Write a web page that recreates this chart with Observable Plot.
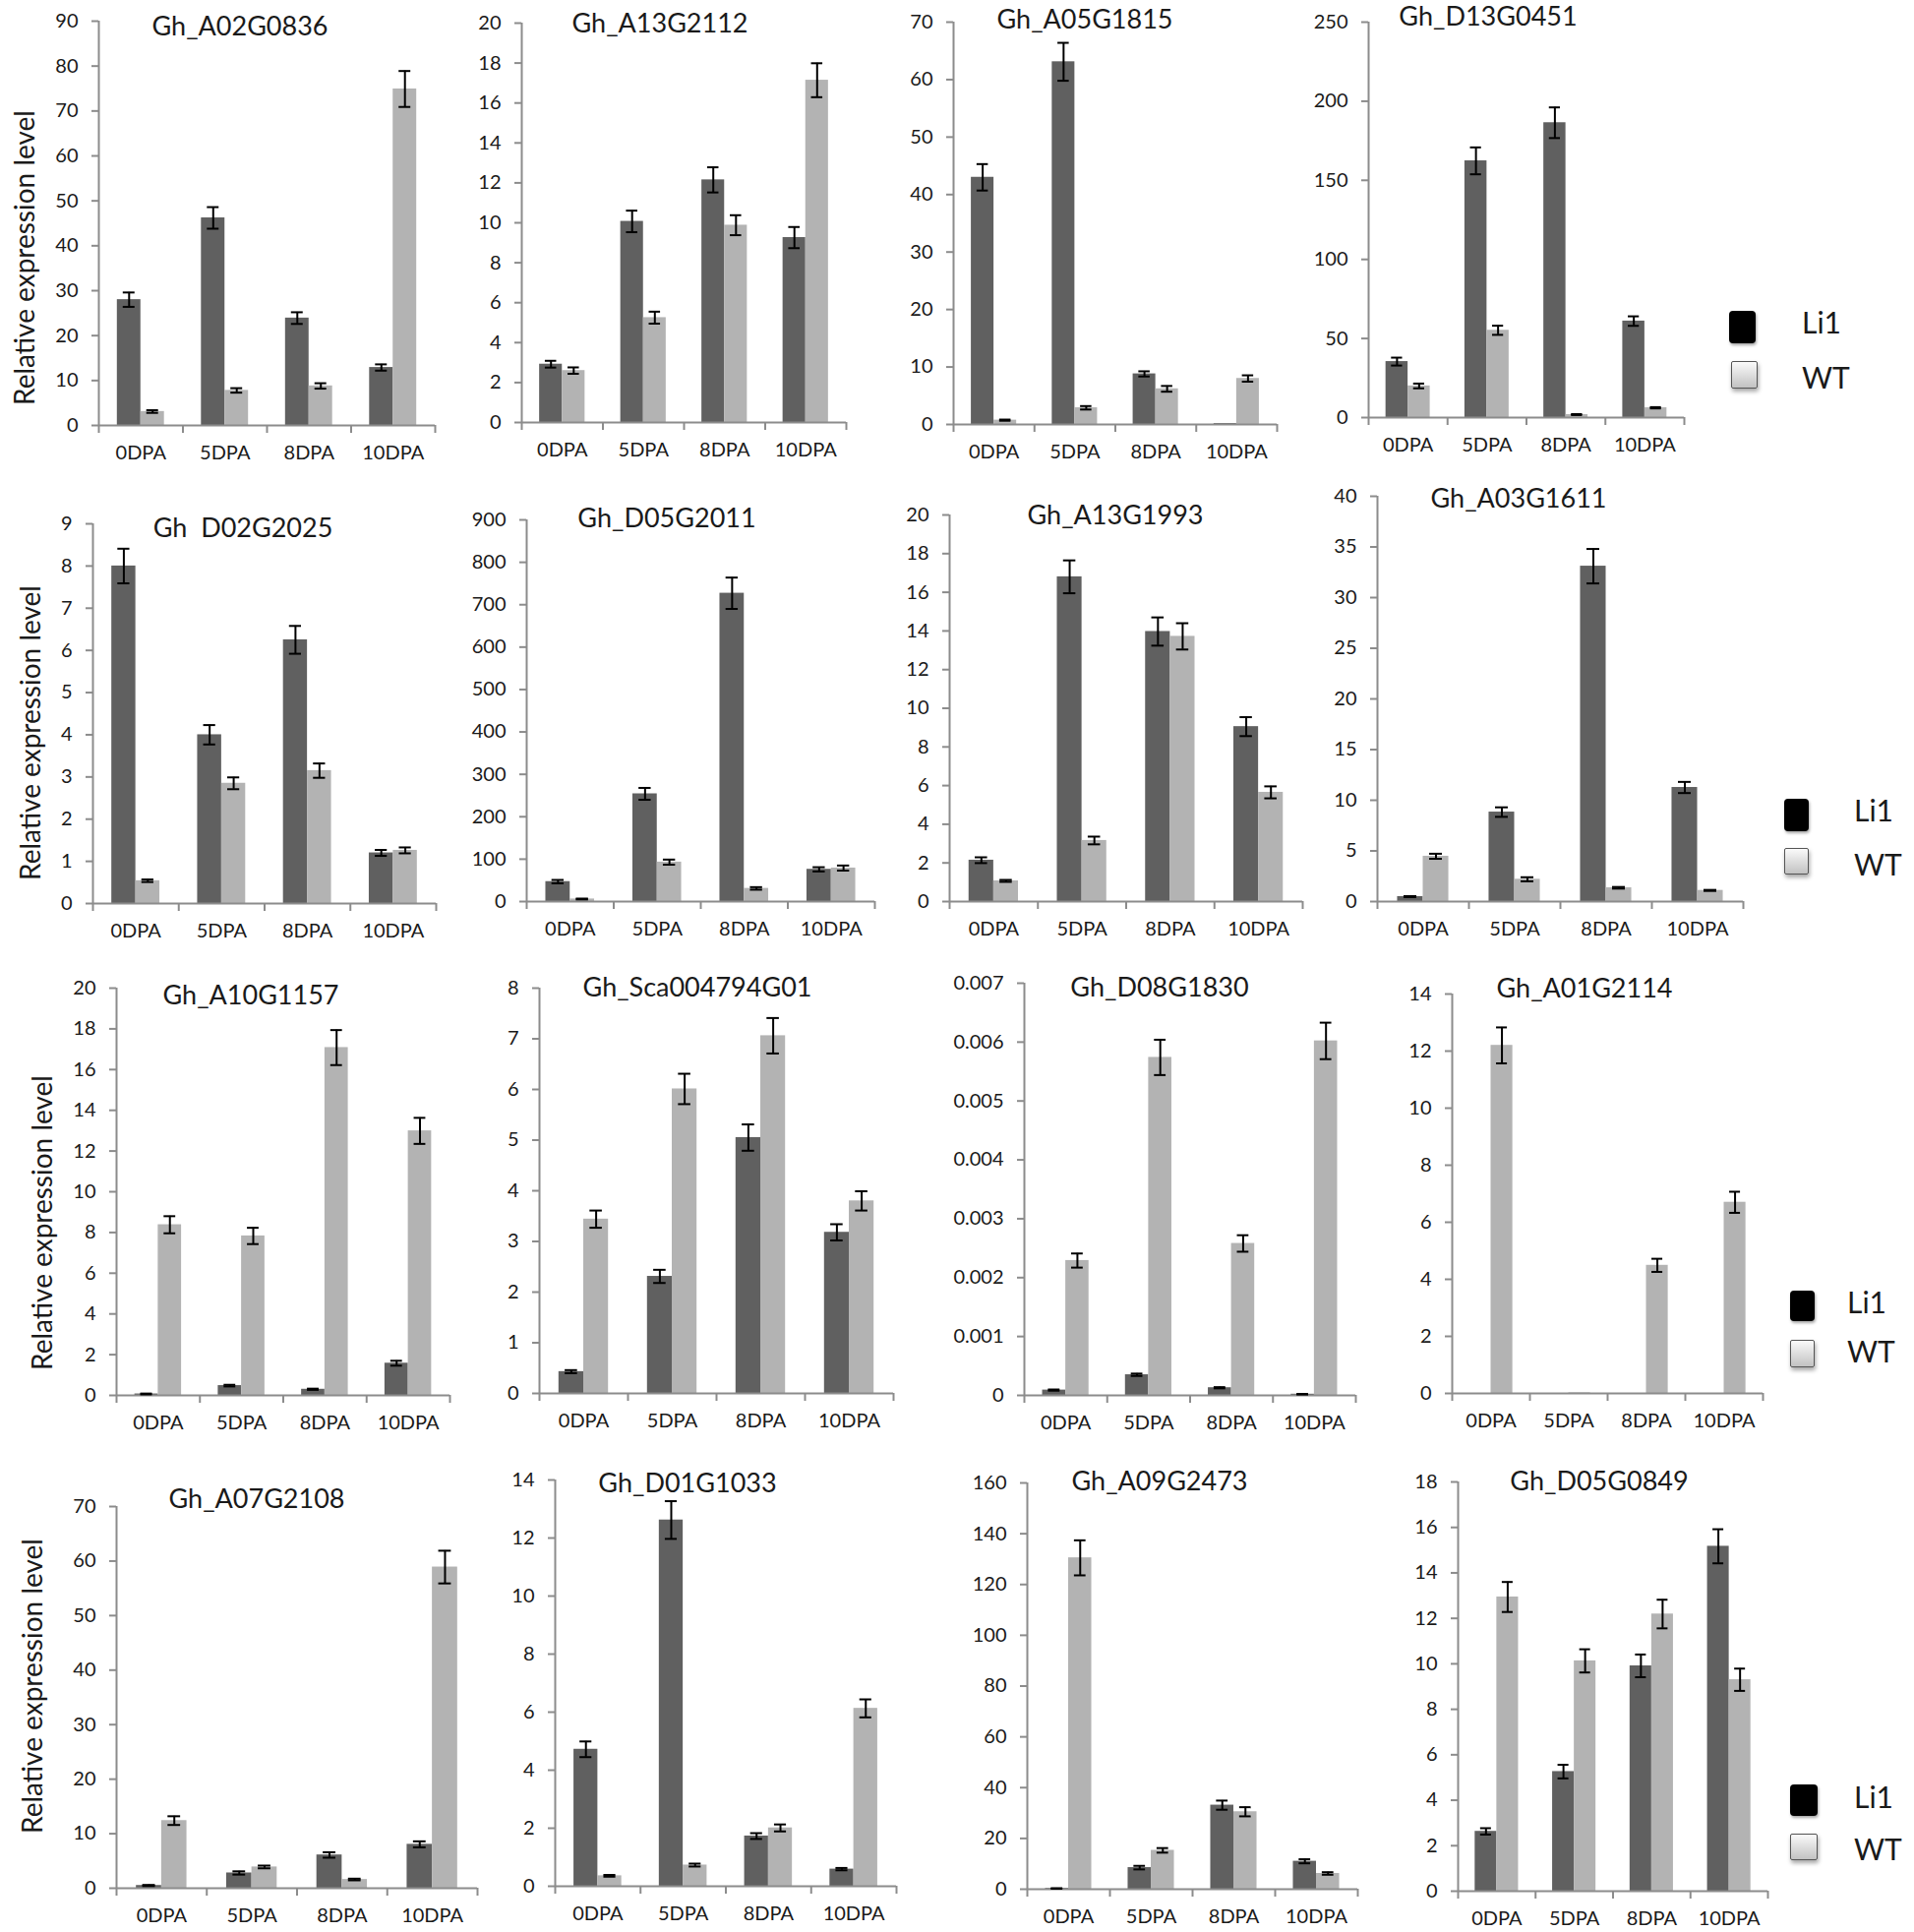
<!DOCTYPE html>
<html><head><meta charset="utf-8">
<script src="https://cdn.jsdelivr.net/npm/d3@7"></script>
<script src="https://cdn.jsdelivr.net/npm/@observablehq/plot@0.6"></script>
<style>
body{margin:0;background:#fff;}
#fig{position:relative;width:1946px;height:1964px;background:#fff;font-family:Lato,"Open Sans",sans-serif;color:#1a1a1a;overflow:hidden;}
.title{position:absolute;font-size:27px;white-space:pre;line-height:1;transform:translate(-50%,-50%);}
.ylab{position:absolute;font-size:28px;white-space:nowrap;line-height:1;transform:translate(-50%,-50%) rotate(-90deg);}
.li1sw{position:absolute;background:#000;border-radius:4px;box-shadow:1px 2px 3px rgba(0,0,0,0.35);}
.wtsw{position:absolute;background:linear-gradient(#fafafa,#c2c2c2);border:1.5px solid #555;box-sizing:border-box;border-radius:2px;box-shadow:1px 3px 4px rgba(0,0,0,0.35);}
.lt{position:absolute;font-size:30px;line-height:1;transform:translateY(-50%);}
</style></head><body><div id="fig"></div><script>
// ---------- data ----------
const categories = ["0DPA", "5DPA", "8DPA", "10DPA"];
const series = ["Li1", "WT"];
const genes = ["Gh_A02G0836", "Gh_A13G2112", "Gh_A05G1815", "Gh_D13G0451",
  "Gh  D02G2025", "Gh_D05G2011", "Gh_A13G1993", "Gh_A03G1611",
  "Gh_A10G1157", "Gh_Sca004794G01", "Gh_D08G1830", "Gh_A01G2114",
  "Gh_A07G2108", "Gh_D01G1033", "Gh_A09G2473", "Gh_D05G0849"];
const li1 = [
  [28.0, 46.2, 23.9, 12.9], [2.92, 10.07, 12.15, 9.26], [43.0, 63.1, 8.8, 0.15], [35.4, 162.3, 186.4, 61],
  [8.0, 4.0, 6.25, 1.2], [47, 254, 727, 76], [2.14, 16.8, 13.97, 9.05], [0.49, 8.83, 33.1, 11.26],
  [0.07, 0.48, 0.3, 1.58], [0.43, 2.31, 5.05, 3.18], [0.00009, 0.00035, 0.00013, 0.00002], [0, 0, 0, 0],
  [0.5, 2.8, 6.1, 8.05], [4.72, 12.62, 1.73, 0.59], [0.3, 8.5, 33.1, 11.0], [2.63, 5.26, 9.91, 15.17]];
const li1Err = [
  [1.6, 2.4, 1.3, 0.7], [0.17, 0.54, 0.63, 0.53], [2.3, 3.3, 0.45, 0], [2.5, 8.5, 9.7, 3],
  [0.41, 0.23, 0.33, 0.07], [4, 14, 37, 5], [0.15, 0.85, 0.73, 0.49], [0.05, 0.47, 1.7, 0.55],
  [0.02, 0.04, 0.03, 0.12], [0.03, 0.13, 0.26, 0.16], [0.00001, 0.00002, 0.00001, 0.000005], [0, 0, 0, 0],
  [0.1, 0.3, 0.5, 0.55], [0.27, 0.65, 0.1, 0.04], [0.1, 0.7, 1.8, 0.8], [0.14, 0.3, 0.5, 0.75]];
const wt = [
  [3.1, 7.8, 8.8, 74.9], [2.6, 5.25, 9.88, 17.14], [0.75, 2.9, 6.2, 8.0], [20, 55.2, 1.9, 6.2],
  [0.54, 2.85, 3.15, 1.26], [6, 93, 31, 79], [1.07, 3.16, 13.72, 5.65], [4.47, 2.2, 1.36, 1.1],
  [8.38, 7.83, 17.08, 12.99], [3.44, 6.01, 7.06, 3.8], [0.00229, 0.00574, 0.00258, 0.00602], [12.2, 0.02, 4.49, 6.7],
  [12.4, 3.9, 1.6, 58.9], [0.36, 0.73, 2.01, 6.13], [130.5, 15.3, 30.5, 6.2], [12.94, 10.13, 12.19, 9.3]];
const wtErr = [
  [0.3, 0.5, 0.6, 4.0], [0.16, 0.3, 0.5, 0.85], [0.1, 0.3, 0.5, 0.55], [1.5, 2.9, 0.3, 0.4],
  [0.03, 0.14, 0.17, 0.07], [1, 6, 3, 6], [0.05, 0.2, 0.68, 0.31], [0.25, 0.2, 0.08, 0.05],
  [0.42, 0.4, 0.86, 0.64], [0.17, 0.3, 0.35, 0.19], [0.00012, 0.0003, 0.00014, 0.00031], [0.63, 0, 0.23, 0.37],
  [0.8, 0.25, 0.15, 3.0], [0.03, 0.05, 0.12, 0.31], [6.9, 0.9, 1.8, 0.5], [0.66, 0.51, 0.63, 0.49]];
const yMax = [90, 20, 70, 250, 9, 900, 20, 40, 20, 8, 0.007, 14, 70, 14, 160, 18];
const yStep = [10, 2, 10, 50, 1, 100, 2, 5, 2, 1, 0.001, 2, 10, 2, 20, 2];
const yLabel = "Relative expression level";

// ---------- layout (pixels) ----------
// [y-axis x, axis right end x, baseline y, top tick y]
const boxes = [
  [100, 442, 432, 21], [530, 860, 429, 23], [969, 1298, 431, 22], [1391, 1712, 424, 22],
  [94, 443, 918, 532], [535, 889, 916, 528], [965, 1324, 916, 523], [1400, 1772, 916, 504],
  [118, 457, 1418, 1004], [548, 908, 1416, 1004], [1041, 1378, 1418, 999], [1476, 1792, 1416, 1010],
  [118, 485, 1919, 1531], [564, 911, 1917, 1504], [1044, 1380, 1920, 1507], [1482, 1797, 1922, 1506]];
const titlePos = [
  [244, 25], [671, 22], [1103, 18], [1513, 15],
  [247, 535], [678, 525], [1134, 522], [1544, 505],
  [255, 1010], [709, 1002], [1179, 1002], [1611, 1003],
  [261, 1522], [699, 1506], [1179, 1504], [1626, 1504]];
const ylabPos = [[24, 262], [30, 745], [42, 1243], [32, 1714]];
const legends = [
  {li1: [1758, 316, 27, 33], wt: [1760, 367, 27, 28], tx: 1832, ty: [327, 383]},
  {li1: [1814, 812, 25, 33], wt: [1814, 862, 25, 27], tx: 1885, ty: [823, 878]},
  {li1: [1820, 1312, 25, 31], wt: [1820, 1362, 25, 28], tx: 1878, ty: [1323, 1373]},
  {li1: [1820, 1814, 28, 32], wt: [1820, 1864, 28, 27], tx: 1885, ty: [1826, 1879]}];

const fig = document.getElementById("fig");
const AX = "#8c8c8c";
const ML = 90, MR = 12, MT = 16, MB = 56;

function panel(p) {
  const [ax, rx, y0, yt] = boxes[p];
  const rows = [];
  categories.forEach((c, i) => {
    series.forEach((s, k) => {
      const v = (k ? wt : li1)[p][i], e = (k ? wtErr : li1Err)[p][i];
      const x1 = i + 0.22 + 0.28 * k;
      rows.push({cat: c, series: s, value: v, err: e, x1, x2: x1 + 0.28, xc: x1 + 0.14});
    });
  });
  const errRows = rows.filter(d => d.err > 0);
  const n = Math.round(yMax[p] / yStep[p]);
  const ticks = d3.range(0, n + 1).map(k => +(k * yStep[p]).toPrecision(8));
  const fmt = d => String(+(+d).toFixed(6));
  const svg = Plot.plot({
    width: ML + (rx - ax) + MR,
    height: MT + (y0 - yt) + MB,
    marginLeft: ML, marginRight: MR, marginTop: MT, marginBottom: MB,
    x: {domain: [0, 4], label: null},
    y: {domain: [0, yMax[p]], label: null},
    color: {domain: series, range: ["#606060", "#b3b3b3"]},
    style: {background: "transparent", overflow: "visible", fontFamily: "Lato, 'Open Sans', sans-serif", color: "#1a1a1a"},
    marks: [
      Plot.rect(rows, {x1: "x1", x2: "x2", y1: 0, y2: "value", fill: "series"}),
      Plot.ruleY([0], {stroke: AX, strokeWidth: 2}),
      Plot.ruleX([0], {stroke: AX, strokeWidth: 2}),
      Plot.ruleX(errRows, {x: "xc", y1: d => d.value - d.err, y2: d => d.value + d.err, stroke: "#000", strokeWidth: 2}),
      Plot.ruleY(errRows, {x1: d => d.xc - 0.07, x2: d => d.xc + 0.07, y: d => d.value + d.err, stroke: "#000", strokeWidth: 2}),
      Plot.ruleY(errRows, {x1: d => d.xc - 0.07, x2: d => d.xc + 0.07, y: d => d.value - d.err, stroke: "#000", strokeWidth: 2}),
      Plot.axisY({ticks, tickSize: 7, tickPadding: 14, tickFormat: fmt, stroke: AX, strokeWidth: 2, fontSize: 20, label: null}),
      Plot.axisX({ticks: [0, 1, 2, 3, 4], tickSize: 8, tickFormat: () => "", stroke: AX, strokeWidth: 2, label: null}),
      Plot.axisX({ticks: [0.5, 1.5, 2.5, 3.5], tickSize: 0, tickPadding: 20, tickFormat: d => categories[Math.floor(d)], fontSize: 20, label: null})
    ]
  });
  svg.style.position = "absolute";
  svg.style.left = (ax - ML) + "px";
  svg.style.top = (yt - MT) + "px";
  svg.style.maxWidth = "none";
  fig.appendChild(svg);

  const t = document.createElement("div");
  t.className = "title";
  t.textContent = genes[p];
  t.style.left = titlePos[p][0] + "px";
  t.style.top = titlePos[p][1] + "px";
  fig.appendChild(t);
}

for (let p = 0; p < 16; p++) panel(p);

ylabPos.forEach(([x, y]) => {
  const d = document.createElement("div");
  d.className = "ylab";
  d.textContent = yLabel;
  d.style.left = x + "px";
  d.style.top = y + "px";
  fig.appendChild(d);
});

legends.forEach(L => {
  [["li1sw", L.li1], ["wtsw", L.wt]].forEach(([cls, b]) => {
    const s = document.createElement("div");
    s.className = cls;
    s.style.left = b[0] + "px"; s.style.top = b[1] + "px";
    s.style.width = b[2] + "px"; s.style.height = b[3] + "px";
    fig.appendChild(s);
  });
  series.forEach((name, k) => {
    const t = document.createElement("div");
    t.className = "lt";
    t.textContent = name;
    t.style.left = L.tx + "px";
    t.style.top = L.ty[k] + "px";
    fig.appendChild(t);
  });
});
</script></body></html>
